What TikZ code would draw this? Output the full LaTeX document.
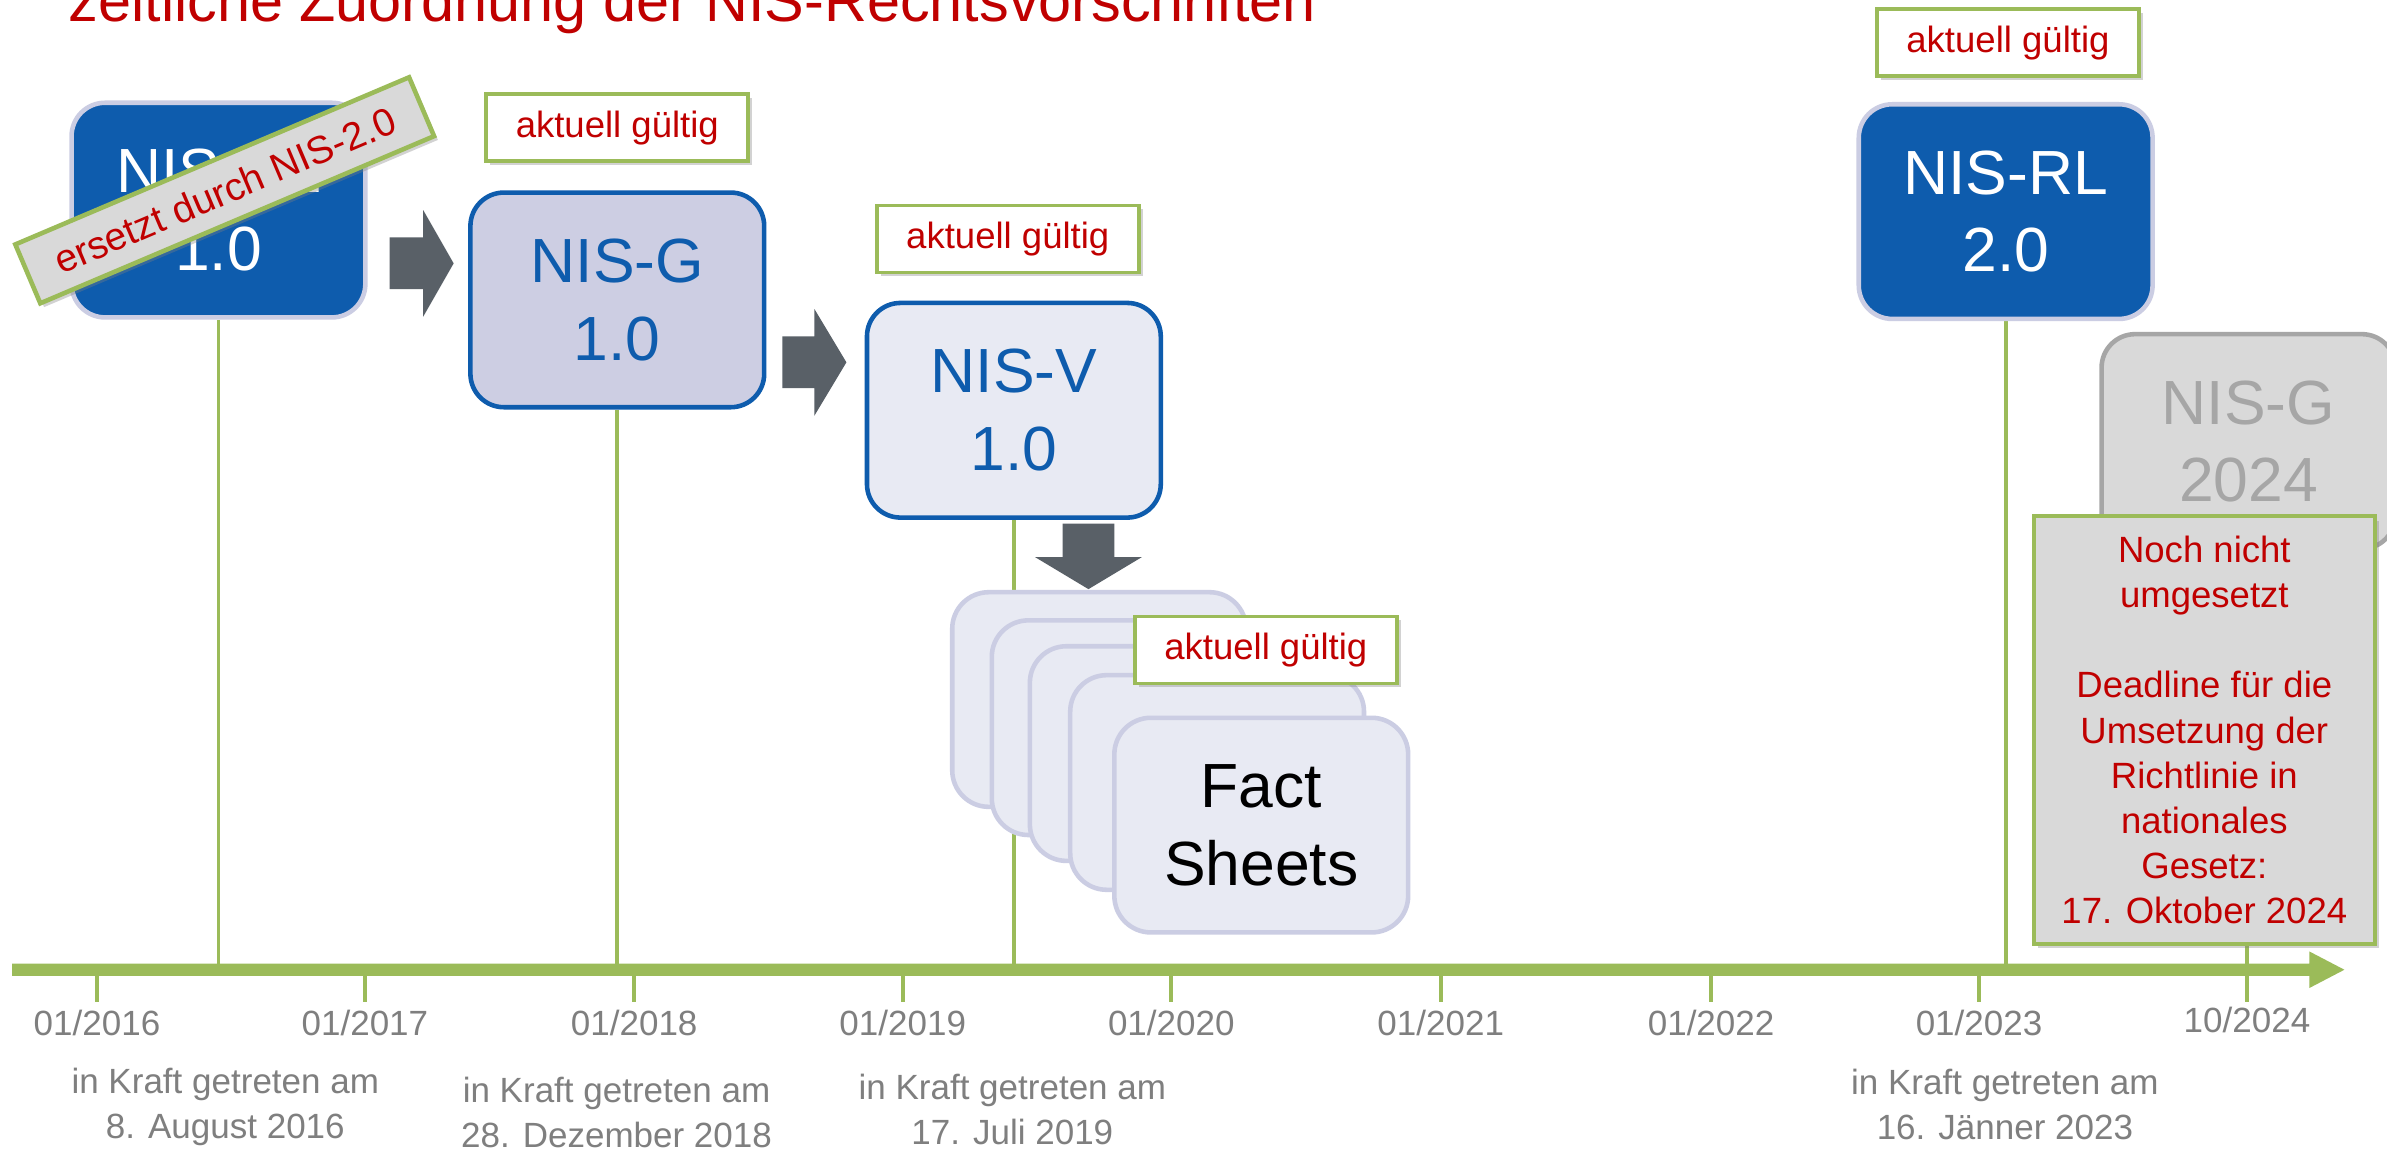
\documentclass[tikz,border=0pt]{standalone}
\usepackage{fontspec}
\setmainfont{Liberation Sans}
\usetikzlibrary{shadows,backgrounds}
\definecolor{nisblue}{HTML}{0E5CAD}
\definecolor{lav}{HTML}{CBCDE3}
\definecolor{lavfill}{HTML}{CDCEE3}
\definecolor{palefill}{HTML}{E8EAF3}
\definecolor{leaf}{HTML}{9BBB59}
\definecolor{darkred}{HTML}{C00000}
\definecolor{labgray}{HTML}{7F7F7F}
\definecolor{arrgray}{HTML}{596067}
\definecolor{ghostfill}{HTML}{D9D9D9}
\definecolor{ghostline}{HTML}{A6A6A6}
\newcommand\fBig{\fontsize{41}{51}\selectfont}
\newcommand\fMid{\fontsize{24}{29.7}\selectfont}
\newcommand\fBan{\fontsize{25.5}{30}\selectfont}
\newcommand\fLab{\fontsize{23}{30}\selectfont}
\newcommand\fTitle{\fontsize{39}{46}\selectfont}
\begin{document}
\begin{tikzpicture}[x=1pt,y=-1pt,
  nisbox/.style={rectangle, rounded corners=22, line width=3, align=center,
    font=\fBig, inner sep=0, minimum width=193, minimum height=141},
  darkbox/.style={nisbox, fill=nisblue, draw=lav, text=white},
  midbox/.style={nisbox, fill=lavfill, draw=nisblue, text=nisblue},
  lightbox/.style={nisbox, fill=palefill, draw=nisblue, text=nisblue},
  ghostbox/.style={nisbox, fill=ghostfill, draw=ghostline, text=ghostline},
  factbox/.style={nisbox, rounded corners=24, fill=palefill, draw=lav, text=black},
  validtag/.style={rectangle, fill=white, draw=leaf, line width=2.5, text=darkred,
    font=\fMid, inner sep=0, minimum width=172, minimum height=44,
    drop shadow={shadow xshift=2.5pt, shadow yshift=-2.5pt, opacity=0.35}},
  banner/.style={rectangle, fill=ghostfill, draw=leaf, line width=3, text=darkred,
    font=\fBan, inner sep=0, minimum width=281, minimum height=42,
    drop shadow={shadow xshift=2.5pt, shadow yshift=-2.5pt, opacity=0.35}},
  notebox/.style={rectangle, fill=ghostfill, draw=leaf, line width=3, text=darkred,
    font=\fMid, align=center, inner sep=0, minimum width=224, minimum height=281,
    drop shadow={shadow xshift=3pt, shadow yshift=-3pt, opacity=0.35}},
  vline/.style={draw=leaf, line width=2.5},
  ticklab/.style={anchor=base, inner sep=0, text=labgray, font=\fLab},
  blockarrow/.style={fill=arrgray}
]
\clip (0,0) rectangle (1568,755);
\coordinate (axisc) at (0,637);
\coordinate (ticktop) at (0,641);
\coordinate (tickbot) at (0,658);

% title
\node[anchor=base west, text=darkred, font=\fTitle, inner sep=0] (title) at (45,14)
  {zeitliche Zuordnung der NIS-Rechtsvorschriften};

% main boxes
\node[darkbox] (nisrl1) at (143.5,138) {NIS-RL\\1.0};
\node[midbox] (nisg1) at (405.5,197) {NIS-G\\1.0};
\node[lightbox] (nisv1) at (666,269.5) {NIS-V\\1.0};
\node[darkbox] (nisrl2) at (1317.5,139) {NIS-RL\\2.0};
\node[ghostbox] (nisg24) at (1477,290) {NIS-G\\2024};

% block arrows
\fill[blockarrow] (256,156) -- (278,156) -- (278,138) -- (298,173) -- (278,208) -- (278,190) -- (256,190) -- cycle;
\fill[blockarrow] (514,221) -- (535,221) -- (535,203) -- (556,238) -- (535,273) -- (535,255) -- (514,255) -- cycle;
\fill[blockarrow] (698,344) -- (732,344) -- (732,366) -- (750,366) -- (715,387) -- (680,366) -- (698,366) -- cycle;

% fact sheets stack
\node[factbox] (fs1) at (722,459.5) {};
\node[factbox] (fs2) at (748,478) {};
\node[factbox] (fs3) at (773,495) {};
\node[factbox] (fs4) at (799.5,514) {};
\node[factbox] (fs5) at (828.5,542) {Fact\\Sheets};

% validity tags
\node[validtag] (v1) at (405.5,84) {aktuell gültig};
\node[validtag] (v2) at (662,157) {aktuell gültig};
\node[validtag] (v3) at (831.5,427) {aktuell gültig};
\node[validtag] (v4) at (1319,28) {aktuell gültig};

% replaced banner
\node[banner, rotate=23] (replaced) at (147.6,125) {ersetzt durch NIS-2.0};

% note
\node[notebox] (note) at (1448,479.5)
  {Noch nicht\\umgesetzt\\[29.7pt]Deadline für die\\Umsetzung der\\Richtlinie in\\nationales\\Gesetz:\\17. Oktober 2024};

% axis
\fill[leaf] (8,633) -- (1517,633) -- (1517,625) -- (1540,637) -- (1517,649) -- (1517,641) -- (8,641) -- cycle;

% ticks
\foreach \tx in {63.7,239.7,416.6,593,769.4,946.4,1124,1300,1476}
  \draw[vline] (\tx,641) -- (\tx,658);

% tick labels
\node[ticklab] (t16) at (63.7,680) {01/2016};
\node[ticklab] (t17) at (239.7,680) {01/2017};
\node[ticklab] (t18) at (416.6,680) {01/2018};
\node[ticklab] (t19) at (593,680) {01/2019};
\node[ticklab] (t20) at (769.4,680) {01/2020};
\node[ticklab] (t21) at (946.4,680) {01/2021};
\node[ticklab] (t22) at (1124,680) {01/2022};
\node[ticklab] (t23) at (1300,680) {01/2023};
\node[ticklab] (t24) at (1476,678) {10/2024};

% in force labels
\node[ticklab] (k1a) at (148,718.5) {in Kraft getreten am};
\node[ticklab] (k1b) at (148,748) {8. August 2016};
\node[ticklab] (k2a) at (405,724.5) {in Kraft getreten am};
\node[ticklab] (k2b) at (405,754) {28. Dezember 2018};
\node[ticklab] (k3a) at (665,722.5) {in Kraft getreten am};
\node[ticklab] (k3b) at (665,752) {17. Juli 2019};
\node[ticklab] (k4a) at (1317,719) {in Kraft getreten am};
\node[ticklab] (k4b) at (1317,748.5) {16. Jänner 2023};

% connectors behind
\begin{scope}[on background layer]
  \fill[white] (0,0) rectangle (1568,755);
  \draw[vline] (nisrl1.south) -- (nisrl1.south |- axisc);
  \draw[vline] (nisg1.south) -- (nisg1.south |- axisc);
  \draw[vline] (nisv1.south) -- (nisv1.south |- axisc);
  \draw[vline] (nisrl2.south) -- (nisrl2.south |- axisc);
  \draw[vline] (note.south -| t24) -- (t24 |- tickbot);
\end{scope}
\end{tikzpicture}
\end{document}
